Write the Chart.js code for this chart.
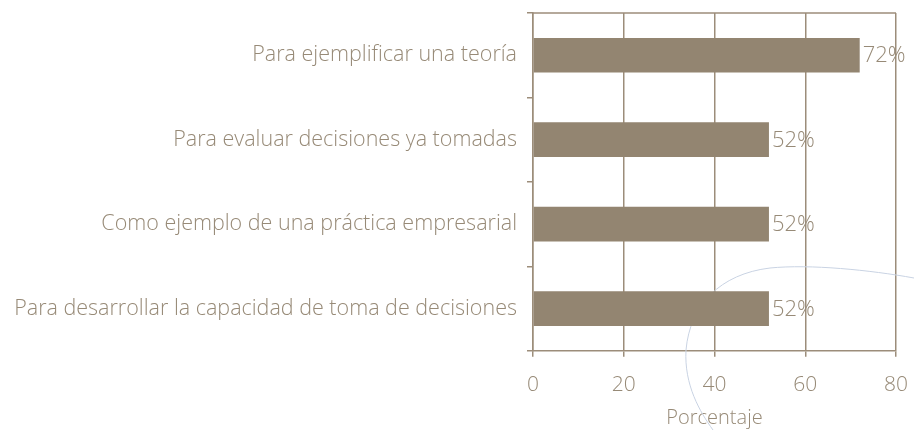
<!DOCTYPE html>
<html><head><meta charset="utf-8">
<script src="https://cdn.jsdelivr.net/npm/chart.js@4"></script>
<style>html,body{margin:0;padding:0;background:#fff}#wrap{width:914px;height:430px;position:relative}</style>
</head><body><div id="wrap"><canvas id="c" width="914" height="430"></canvas></div>
<script>
const categories = [
  "Para ejemplificar una teoría",
  "Para evaluar decisiones ya tomadas",
  "Como ejemplo de una práctica empresarial",
  "Para desarrollar la capacidad de toma de decisiones"
];
const values = [72, 52, 52, 52];
const xTicks = [0, 20, 40, 60, 80];
const axisTitle = "Porcentaje";

const txt = '#978a77';
const grid = '#9c8d7a';
const FONT = '"Open Sans"';

const labelPlugin = {
  id: 'valLabels',
  afterDatasetsDraw(chart) {
    const ctx = chart.ctx;
    const meta = chart.getDatasetMeta(0);
    const a = chart.chartArea;
    ctx.save();
    ctx.strokeStyle = grid;
    ctx.lineWidth = 1.5;
    ctx.beginPath();
    ctx.moveTo(a.left, a.top);
    ctx.lineTo(a.right, a.top);
    ctx.stroke();
    ctx.font = '300 22px ' + FONT;
    ctx.fillStyle = txt;
    ctx.textBaseline = 'middle';
    ctx.textAlign = 'left';
    meta.data.forEach((bar, i) => {
      ctx.fillText(values[i] + '%', bar.x + 3, bar.y + 1);
    });
    ctx.restore();
  }
};
const curvePlugin = {
  id: 'curve',
  beforeDatasetsDraw(chart) {
    const ctx = chart.ctx;
    ctx.save();
    ctx.strokeStyle = '#c9d3e3';
    ctx.lineWidth = 1;
    ctx.beginPath();
    ctx.moveTo(914, 278);
    ctx.bezierCurveTo(870, 270, 810, 264, 770, 268);
    ctx.bezierCurveTo(720, 274, 690, 305, 686, 350);
    ctx.bezierCurveTo(684, 385, 700, 412, 713, 430);
    ctx.stroke();
    ctx.restore();
  }
};

new Chart(document.getElementById('c'), {
  type: 'bar',
  data: {
    labels: categories,
    datasets: [{ data: values, backgroundColor: '#938571', borderWidth: 0,
      barPercentage: 0.41, categoryPercentage: 1 }]
  },
  options: {
    indexAxis: 'y',
    responsive: false,
    animation: false,
    layout: { padding: { top: 13, right: 18, bottom: 0, left: 0 } },
    plugins: { legend: { display: false }, tooltip: { enabled: false } },
    scales: {
      x: {
        min: 0, max: 80,
        afterBuildTicks(axis) { axis.ticks = xTicks.map(v => ({ value: v })); },
        afterFit(axis) { axis.paddingLeft = 0; axis.paddingRight = 0; },
        grid: { color: grid, lineWidth: 1.5, drawTicks: true, tickLength: 6, tickColor: grid },
        border: { color: grid, width: 1.5 },
        ticks: { color: txt, font: { family: FONT, size: 21, weight: '300' }, padding: 16 },
        title: { display: true, text: axisTitle, color: txt, font: { family: FONT, size: 20, weight: '300' }, padding: { top: -8, bottom: 0 } }
      },
      y: {
        afterFit(axis) { axis.width = 533; axis.paddingTop = 0; axis.paddingBottom = 0; },
        grid: { offset: true, display: true, drawOnChartArea: false, color: grid, lineWidth: 1.5, tickLength: 6 },
        border: { color: grid, width: 1.5 },
        ticks: { color: txt, font: { family: FONT, size: 21.5, weight: '300' }, padding: 10 }
      }
    }
  },
  plugins: [labelPlugin, curvePlugin]
});
</script></body></html>
